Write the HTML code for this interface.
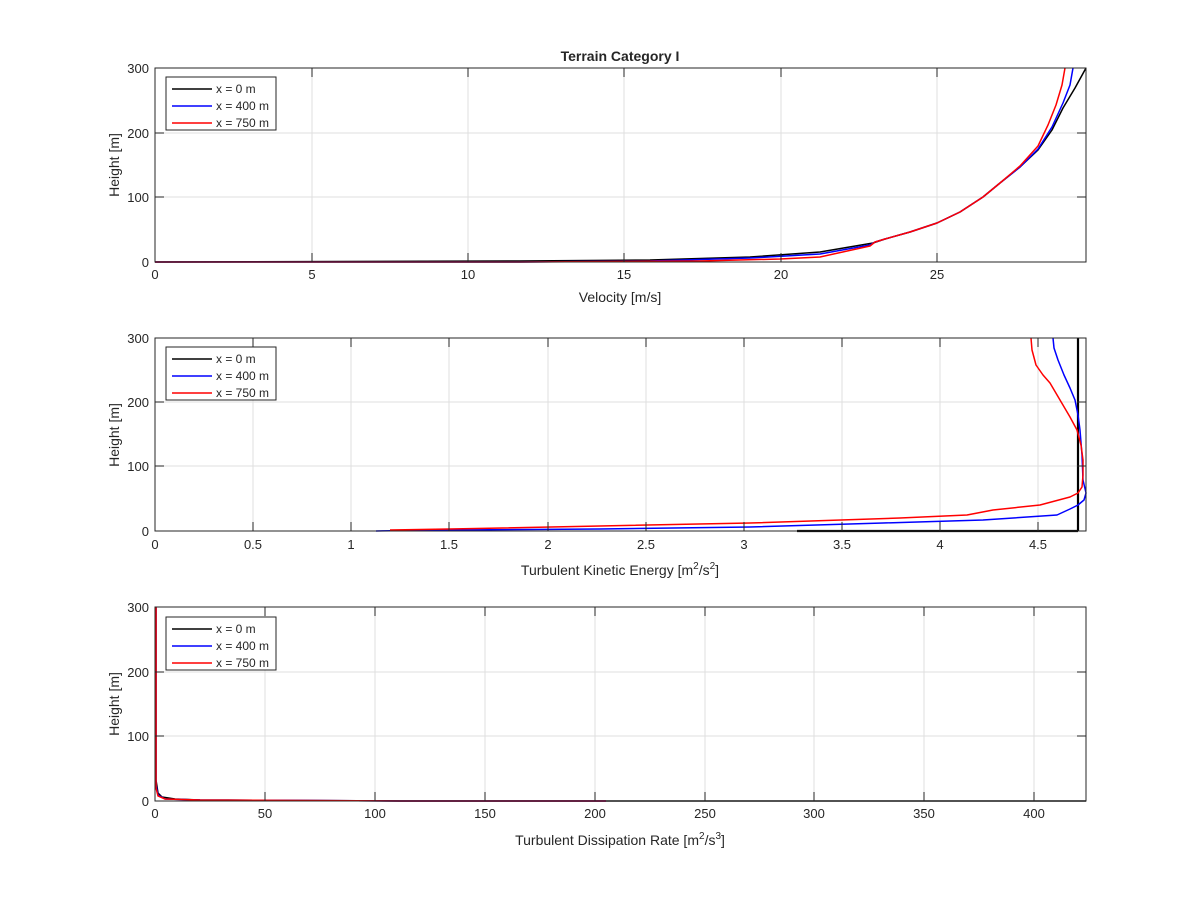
<!DOCTYPE html>
<html><head><meta charset="utf-8"><style>body{margin:0;background:#fff}svg{display:block}text{font-family:"Liberation Sans",sans-serif;fill:#262626}</style></head><body>
<svg width="1200" height="900" xmlns="http://www.w3.org/2000/svg">
<rect width="1200" height="900" fill="#fff"/>
<text x="620" y="61" font-size="14" font-weight="bold" text-anchor="middle" fill="#000">Terrain Category I</text>
<!-- Plot 1 -->
<g stroke="#dfdfdf" stroke-width="1">
<line x1="312" y1="68" x2="312" y2="262"/><line x1="468" y1="68" x2="468" y2="262"/><line x1="624" y1="68" x2="624" y2="262"/><line x1="781" y1="68" x2="781" y2="262"/><line x1="937" y1="68" x2="937" y2="262"/>
<line x1="155" y1="133" x2="1086" y2="133"/><line x1="155" y1="197" x2="1086" y2="197"/>
</g>
<g fill="none" stroke-width="1.5" stroke-linejoin="round">
<polyline stroke="#000" points="1086,68 1075,88 1063,108 1052,130 1038,150 1020,167 1000,183 983,197 960,212 937,223 910,232 885,239 873,243 820,252 750,257 650,260 520,261 155,262"/>
<polyline stroke="#00f" points="1073,68 1070,85 1063,103 1052,127 1038,149 1020,167 1000,183 983,197 960,212 937,223 910,232 885,239 875,242 870,245 820,254 750,258 650,261 520,262 155,262"/>
<polyline stroke="#f00" points="1065,68 1062,85 1056,105 1048,125 1038,146 1020,166 1000,183 983,197 960,212 937,223 910,232 885,239 875,242 870,246 820,257 780,259 700,261 520,262 155,262"/>
</g>
<rect x="155" y="68" width="931" height="194" fill="none" stroke="#262626"/>
<g stroke="#262626">
<line x1="312" y1="262" x2="312" y2="253"/><line x1="468" y1="262" x2="468" y2="253"/><line x1="624" y1="262" x2="624" y2="253"/><line x1="781" y1="262" x2="781" y2="253"/><line x1="937" y1="262" x2="937" y2="253"/>
<line x1="312" y1="68" x2="312" y2="77"/><line x1="468" y1="68" x2="468" y2="77"/><line x1="624" y1="68" x2="624" y2="77"/><line x1="781" y1="68" x2="781" y2="77"/><line x1="937" y1="68" x2="937" y2="77"/>
<line x1="155" y1="133" x2="164" y2="133"/><line x1="155" y1="197" x2="164" y2="197"/><line x1="1086" y1="133" x2="1077" y2="133"/><line x1="1086" y1="197" x2="1077" y2="197"/>
</g>
<g font-size="13" text-anchor="middle"><text x="155" y="279">0</text><text x="312" y="279">5</text><text x="468" y="279">10</text><text x="624" y="279">15</text><text x="781" y="279">20</text><text x="937" y="279">25</text></g>
<g font-size="13" text-anchor="end"><text x="149" y="73">300</text><text x="149" y="138">200</text><text x="149" y="202">100</text><text x="149" y="267">0</text></g>
<text x="620" y="302" font-size="14" text-anchor="middle">Velocity [m/s]</text>
<text transform="translate(119,165) rotate(-90)" font-size="14" text-anchor="middle">Height [m]</text>
<g><rect x="166" y="77" width="110" height="53" fill="#fff" stroke="#262626"/>
<line x1="172" y1="89" x2="212" y2="89" stroke="#000" stroke-width="1.5"/><line x1="172" y1="106" x2="212" y2="106" stroke="#00f" stroke-width="1.5"/><line x1="172" y1="123" x2="212" y2="123" stroke="#f00" stroke-width="1.5"/>
<g font-size="12" fill="#000"><text x="216" y="93">x = 0 m</text><text x="216" y="110">x = 400 m</text><text x="216" y="127">x = 750 m</text></g></g>
<!-- Plot 2 -->
<g stroke="#dfdfdf" stroke-width="1">
<line x1="253" y1="338" x2="253" y2="531"/><line x1="351" y1="338" x2="351" y2="531"/><line x1="449" y1="338" x2="449" y2="531"/><line x1="548" y1="338" x2="548" y2="531"/><line x1="646" y1="338" x2="646" y2="531"/><line x1="744" y1="338" x2="744" y2="531"/><line x1="842" y1="338" x2="842" y2="531"/><line x1="940" y1="338" x2="940" y2="531"/><line x1="1038" y1="338" x2="1038" y2="531"/>
<line x1="155" y1="402" x2="1086" y2="402"/><line x1="155" y1="466" x2="1086" y2="466"/>
</g>
<g fill="none" stroke-width="1.5" stroke-linejoin="round">
<line x1="1078" y1="338" x2="1078" y2="531" stroke="#000" stroke-width="2.2"/>
<line x1="797" y1="531" x2="1078" y2="531" stroke="#000" stroke-width="2.2"/>
<polyline stroke="#00f" points="1053,338 1054,348 1058,360 1064,375 1070,388 1075,400 1078,415 1080,430 1082,455 1083,480 1086,493 1084,500 1078,505 1070,509 1057,515 983,520 883,523 750,527 600,529 450,530 376,531"/>
<polyline stroke="#f00" points="1031,338 1032,350 1036,365 1043,375 1050,383 1060,400 1070,417 1077,430 1081,445 1083,460 1083,475 1082,487 1078,493 1070,497 1040,505 993,510 967,515 900,518 750,523 600,526 450,529 390,530"/>
</g>
<rect x="155" y="338" width="931" height="193" fill="none" stroke="#262626"/>
<g stroke="#262626">
<line x1="253" y1="531" x2="253" y2="522"/><line x1="351" y1="531" x2="351" y2="522"/><line x1="449" y1="531" x2="449" y2="522"/><line x1="548" y1="531" x2="548" y2="522"/><line x1="646" y1="531" x2="646" y2="522"/><line x1="744" y1="531" x2="744" y2="522"/><line x1="842" y1="531" x2="842" y2="522"/><line x1="940" y1="531" x2="940" y2="522"/><line x1="1038" y1="531" x2="1038" y2="522"/>
<line x1="253" y1="338" x2="253" y2="347"/><line x1="351" y1="338" x2="351" y2="347"/><line x1="449" y1="338" x2="449" y2="347"/><line x1="548" y1="338" x2="548" y2="347"/><line x1="646" y1="338" x2="646" y2="347"/><line x1="744" y1="338" x2="744" y2="347"/><line x1="842" y1="338" x2="842" y2="347"/><line x1="940" y1="338" x2="940" y2="347"/><line x1="1038" y1="338" x2="1038" y2="347"/>
<line x1="155" y1="402" x2="164" y2="402"/><line x1="155" y1="466" x2="164" y2="466"/><line x1="1086" y1="402" x2="1077" y2="402"/><line x1="1086" y1="466" x2="1077" y2="466"/>
</g>
<g font-size="13" text-anchor="middle"><text x="155" y="549">0</text><text x="253" y="549">0.5</text><text x="351" y="549">1</text><text x="449" y="549">1.5</text><text x="548" y="549">2</text><text x="646" y="549">2.5</text><text x="744" y="549">3</text><text x="842" y="549">3.5</text><text x="940" y="549">4</text><text x="1038" y="549">4.5</text></g>
<g font-size="13" text-anchor="end"><text x="149" y="343">300</text><text x="149" y="407">200</text><text x="149" y="471">100</text><text x="149" y="536">0</text></g>
<text x="620" y="575" font-size="14" text-anchor="middle">Turbulent Kinetic Energy [m<tspan font-size="10" dy="-6">2</tspan><tspan dy="6">/s</tspan><tspan font-size="10" dy="-6">2</tspan><tspan dy="6">]</tspan></text>
<text transform="translate(119,435) rotate(-90)" font-size="14" text-anchor="middle">Height [m]</text>
<g><rect x="166" y="347" width="110" height="53" fill="#fff" stroke="#262626"/>
<line x1="172" y1="359" x2="212" y2="359" stroke="#000" stroke-width="1.5"/><line x1="172" y1="376" x2="212" y2="376" stroke="#00f" stroke-width="1.5"/><line x1="172" y1="393" x2="212" y2="393" stroke="#f00" stroke-width="1.5"/>
<g font-size="12" fill="#000"><text x="216" y="363">x = 0 m</text><text x="216" y="380">x = 400 m</text><text x="216" y="397">x = 750 m</text></g></g>
<!-- Plot 3 -->
<g stroke="#dfdfdf" stroke-width="1">
<line x1="265" y1="607" x2="265" y2="801"/><line x1="375" y1="607" x2="375" y2="801"/><line x1="485" y1="607" x2="485" y2="801"/><line x1="595" y1="607" x2="595" y2="801"/><line x1="705" y1="607" x2="705" y2="801"/><line x1="814" y1="607" x2="814" y2="801"/><line x1="924" y1="607" x2="924" y2="801"/><line x1="1034" y1="607" x2="1034" y2="801"/>
<line x1="155" y1="672" x2="1086" y2="672"/><line x1="155" y1="736" x2="1086" y2="736"/>
</g>
<g fill="none" stroke-width="1.5">
<polyline stroke="#000" points="156,607 156,780 158,793 162,797 175,799 200,800 400,801 1086,801"/>
<polyline stroke="#00f" points="156,607 156,785 158,795 165,799 200,800 400,801 606,801"/>
<polyline stroke="#f00" points="156,607 156,788 158,796 165,799 200,800 400,801 606,801"/>
</g>
<rect x="155" y="607" width="931" height="194" fill="none" stroke="#262626"/>
<g stroke="#262626">
<line x1="265" y1="801" x2="265" y2="792"/><line x1="375" y1="801" x2="375" y2="792"/><line x1="485" y1="801" x2="485" y2="792"/><line x1="595" y1="801" x2="595" y2="792"/><line x1="705" y1="801" x2="705" y2="792"/><line x1="814" y1="801" x2="814" y2="792"/><line x1="924" y1="801" x2="924" y2="792"/><line x1="1034" y1="801" x2="1034" y2="792"/>
<line x1="265" y1="607" x2="265" y2="616"/><line x1="375" y1="607" x2="375" y2="616"/><line x1="485" y1="607" x2="485" y2="616"/><line x1="595" y1="607" x2="595" y2="616"/><line x1="705" y1="607" x2="705" y2="616"/><line x1="814" y1="607" x2="814" y2="616"/><line x1="924" y1="607" x2="924" y2="616"/><line x1="1034" y1="607" x2="1034" y2="616"/>
<line x1="155" y1="672" x2="164" y2="672"/><line x1="155" y1="736" x2="164" y2="736"/><line x1="1086" y1="672" x2="1077" y2="672"/><line x1="1086" y1="736" x2="1077" y2="736"/>
</g>
<g font-size="13" text-anchor="middle"><text x="155" y="818">0</text><text x="265" y="818">50</text><text x="375" y="818">100</text><text x="485" y="818">150</text><text x="595" y="818">200</text><text x="705" y="818">250</text><text x="814" y="818">300</text><text x="924" y="818">350</text><text x="1034" y="818">400</text></g>
<g font-size="13" text-anchor="end"><text x="149" y="612">300</text><text x="149" y="677">200</text><text x="149" y="741">100</text><text x="149" y="806">0</text></g>
<text x="620" y="845" font-size="14" text-anchor="middle">Turbulent Dissipation Rate [m<tspan font-size="10" dy="-6">2</tspan><tspan dy="6">/s</tspan><tspan font-size="10" dy="-6">3</tspan><tspan dy="6">]</tspan></text>
<text transform="translate(119,704) rotate(-90)" font-size="14" text-anchor="middle">Height [m]</text>
<g><rect x="166" y="617" width="110" height="53" fill="#fff" stroke="#262626"/>
<line x1="172" y1="629" x2="212" y2="629" stroke="#000" stroke-width="1.5"/><line x1="172" y1="646" x2="212" y2="646" stroke="#00f" stroke-width="1.5"/><line x1="172" y1="663" x2="212" y2="663" stroke="#f00" stroke-width="1.5"/>
<g font-size="12" fill="#000"><text x="216" y="633">x = 0 m</text><text x="216" y="650">x = 400 m</text><text x="216" y="667">x = 750 m</text></g></g>
</svg>
</body></html>
